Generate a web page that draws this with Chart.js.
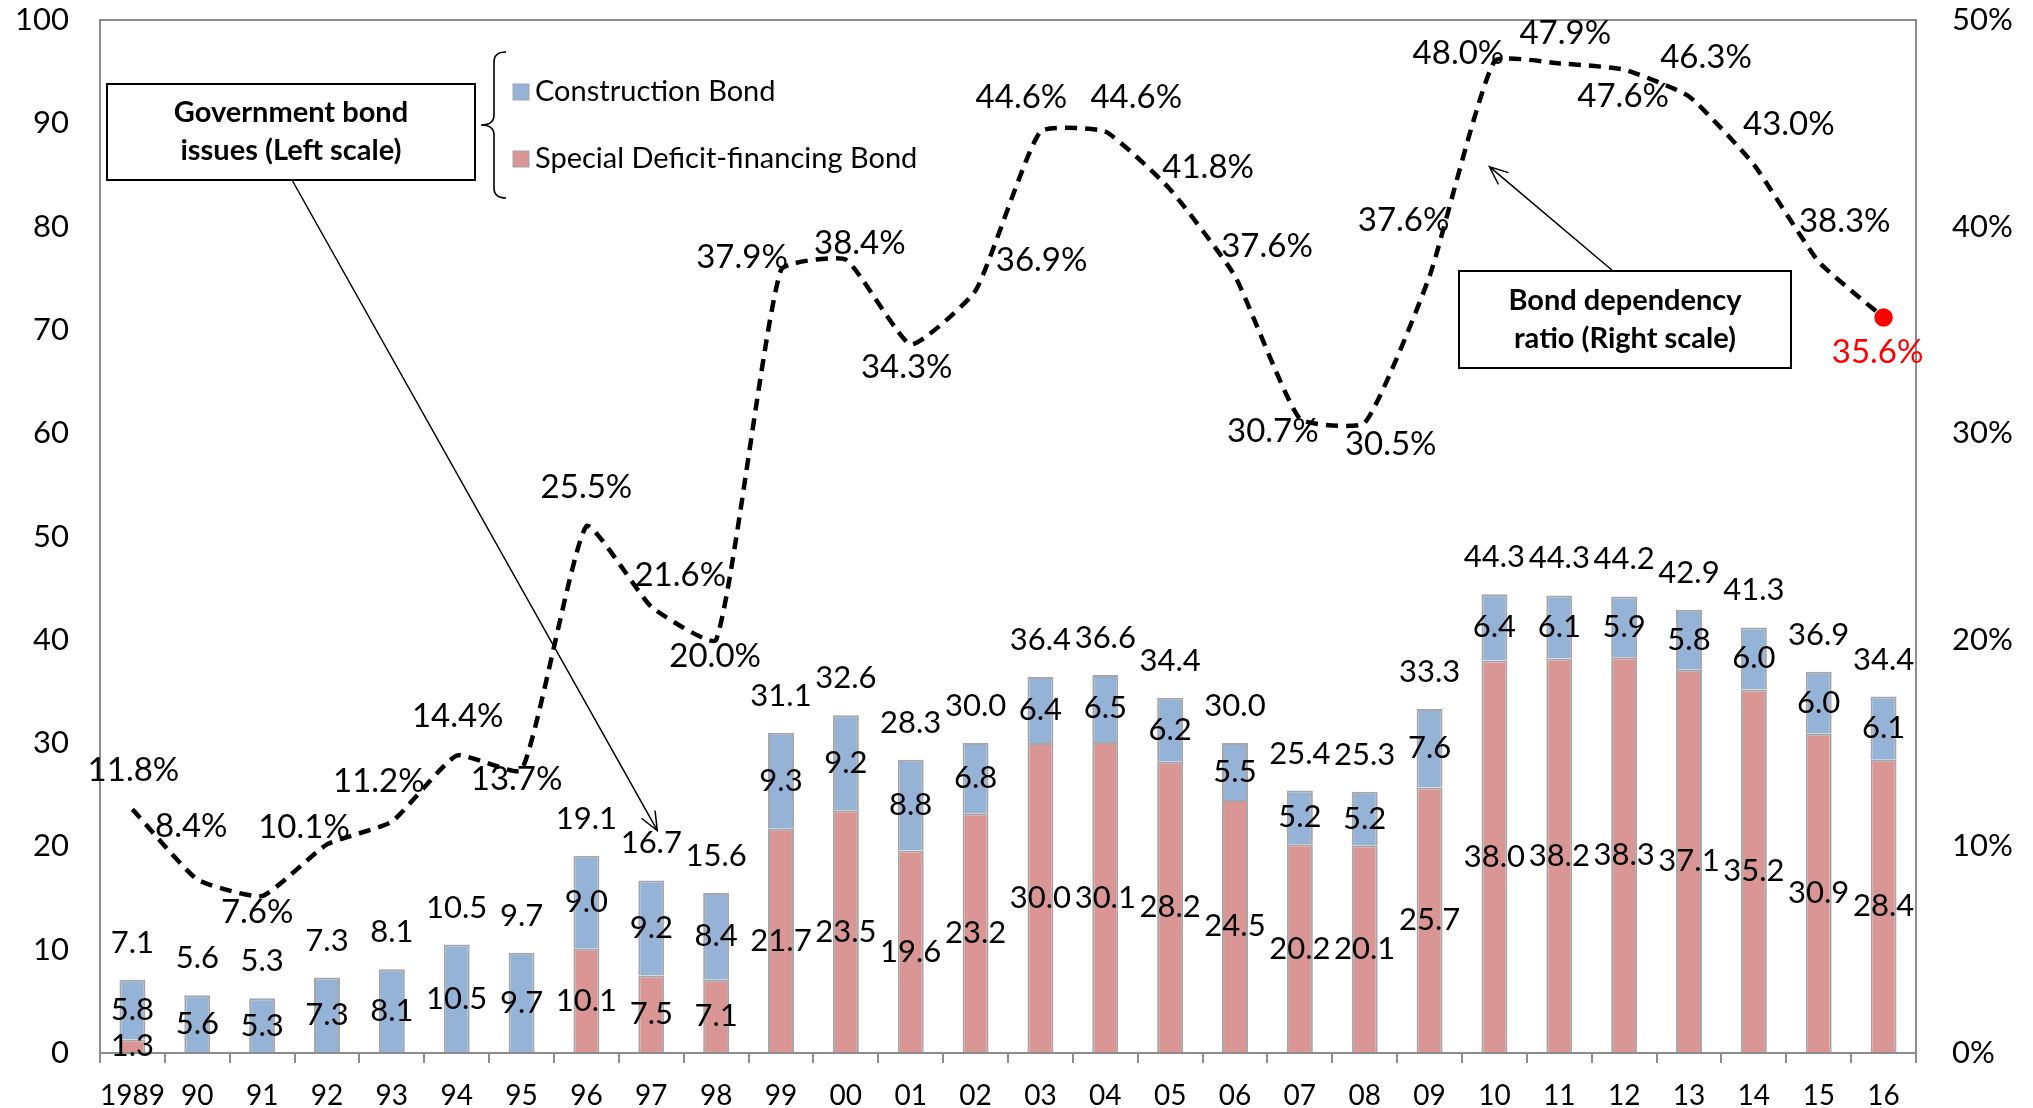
<!DOCTYPE html>
<html>
<head>
<title>Government bond issues and bond dependency ratio</title>
<script src="https://cdn.jsdelivr.net/npm/chart.js"></script>
<style>
  html, body { margin: 0; padding: 0; background: #fff; }
</style>
</head>
<body>
<canvas id="bondChart" width="2033" height="1108"></canvas>
<script>
// fiscal years
const years = ['1989', '90', '91', '92', '93', '94', '95', '96', '97', '98', '99', '00', '01', '02',
               '03', '04', '05', '06', '07', '08', '09', '10', '11', '12', '13', '14', '15', '16'];

// bond issues (left scale)
const constructionBond = [5.8, 5.6, 5.3, 7.3, 8.1, 10.5, 9.7, 9.0, 9.2, 8.4, 9.3, 9.2, 8.8, 6.8,
                          6.4, 6.5, 6.2, 5.5, 5.2, 5.2, 7.6, 6.4, 6.1, 5.9, 5.8, 6.0, 6.0, 6.1];
const deficitBond = [1.3, 0, 0, 0, 0, 0, 0, 10.1, 7.5, 7.1, 21.7, 23.5, 19.6, 23.2,
                     30.0, 30.1, 28.2, 24.5, 20.2, 20.1, 25.7, 38.0, 38.2, 38.3, 37.1, 35.2, 30.9, 28.4];
const totalIssues = [7.1, 5.6, 5.3, 7.3, 8.1, 10.5, 9.7, 19.1, 16.7, 15.6, 31.1, 32.6, 28.3, 30.0,
                     36.4, 36.6, 34.4, 30.0, 25.4, 25.3, 33.3, 44.3, 44.3, 44.2, 42.9, 41.3, 36.9, 34.4];

// bond dependency ratio, % (right scale)
const dependencyRatio = [11.8, 8.4, 7.6, 10.1, 11.2, 14.4, 13.7, 25.5, 21.6, 20.0, 37.9, 38.4, 34.3, 36.9,
                         44.6, 44.6, 41.8, 37.6, 30.7, 30.5, 37.6, 48.0, 47.9, 47.6, 46.3, 43.0, 38.3, 35.6];

// where each ratio label sits relative to its point (px)
const ratioLabelShift = [[1,-39], [-6,-53], [-5,16], [-23,-17], [-13,-40], [1,-39], [-5,9], [0,-39],
                         [29,-31], [-1,17], [-39,-13], [14,-16], [-4,23], [66,-30], [-19,-34], [31,-34],
                         [38,-22], [32,-30], [-27,13], [26,21], [-26,-56], [-36,-8], [6,-30], [-1,27],
                         [17,-39], [35,-40], [26,-40], [-6,35]];

const FONT = 'Lato, "Noto Sans", sans-serif';
const AXIS_GREY = '#8c8c8c';
Chart.defaults.font.family = FONT;
Chart.defaults.color = '#000';

function drawArrow(ctx, x1, y1, x2, y2) {
  const a = Math.atan2(y2 - y1, x2 - x1);
  const len = 20, spread = 0.4;
  ctx.beginPath();
  ctx.moveTo(x1, y1);
  ctx.lineTo(x2, y2);
  ctx.moveTo(x2 - len * Math.cos(a - spread), y2 - len * Math.sin(a - spread));
  ctx.lineTo(x2, y2);
  ctx.lineTo(x2 - len * Math.cos(a + spread), y2 - len * Math.sin(a + spread));
  ctx.stroke();
}

function textBox(ctx, x, y, w, h, lines) {
  ctx.fillStyle = '#fff';
  ctx.fillRect(x, y, w, h);
  ctx.strokeStyle = '#000';
  ctx.lineWidth = 2;
  ctx.strokeRect(x, y, w, h);
  ctx.fillStyle = '#000';
  ctx.font = 'bold 29px ' + FONT;
  ctx.textAlign = 'center';
  ctx.textBaseline = 'middle';
  const gap = 38;
  const cy = y + h / 2 - gap * (lines.length - 1) / 2;
  lines.forEach((t, i) => ctx.fillText(t, x + w / 2, cy + i * gap));
}

const decorations = {
  id: 'decorations',
  afterDraw(chart) {
    const { ctx, chartArea: area } = chart;
    const xs = chart.scales.x, ys = chart.scales.y, yr = chart.scales.y1;
    ctx.save();

    // plot frame
    ctx.strokeStyle = AXIS_GREY;
    ctx.lineWidth = 2;
    ctx.strokeRect(area.left, area.top, area.right - area.left, area.bottom - area.top);

    // bar labels
    ctx.font = '31px ' + FONT;
    ctx.fillStyle = '#000';
    ctx.textAlign = 'center';
    ctx.textBaseline = 'middle';
    years.forEach((_, i) => {
      const cx = xs.getPixelForValue(i);
      const d = deficitBond[i], c = constructionBond[i];
      if (d > 0) ctx.fillText(d.toFixed(1), cx, ys.getPixelForValue(d / 2));
      if (c > 0) ctx.fillText(c.toFixed(1), cx, ys.getPixelForValue(d + c / 2));
      ctx.fillText(totalIssues[i].toFixed(1), cx, ys.getPixelForValue(d + c) - 37);
    });

    // ratio labels
    ctx.font = '33px ' + FONT;
    const last = dependencyRatio.length - 1;
    dependencyRatio.forEach((v, i) => {
      const [dx, dy] = ratioLabelShift[i];
      ctx.fillStyle = i === last ? '#ff0000' : '#000';
      ctx.fillText(v.toFixed(1) + '%', xs.getPixelForValue(i) + dx, yr.getPixelForValue(v) + dy);
    });

    // callout for bars
    ctx.strokeStyle = '#000';
    ctx.lineWidth = 1.5;
    drawArrow(ctx, 292, 180, xs.getPixelForValue(8) + 6, ys.getPixelForValue(totalIssues[8]) - 50);
    textBox(ctx, 107, 84, 368, 96, ['Government bond', 'issues (Left scale)']);

    // brace + legend
    ctx.strokeStyle = '#000';
    ctx.lineWidth = 1.6;
    const xr = 506, xm = 494, xl = 481, top = 52, bot = 198, mid = 125, r = 10;
    ctx.beginPath();
    ctx.moveTo(xr, top);
    ctx.quadraticCurveTo(xm, top, xm, top + r);
    ctx.lineTo(xm, mid - r);
    ctx.quadraticCurveTo(xm, mid, xl, mid);
    ctx.quadraticCurveTo(xm, mid, xm, mid + r);
    ctx.lineTo(xm, bot - r);
    ctx.quadraticCurveTo(xm, bot, xr, bot);
    ctx.stroke();

    const legendItems = [['Construction Bond', '#95B3D7', 92], ['Special Deficit-financing Bond', '#D99694', 159]];
    ctx.font = '29px ' + FONT;
    ctx.textAlign = 'left';
    legendItems.forEach(([txt, col, yy]) => {
      ctx.fillStyle = col;
      ctx.fillRect(513, yy - 8, 16, 16);
      ctx.strokeStyle = '#a6a6a6';
      ctx.lineWidth = 1;
      ctx.strokeRect(513, yy - 8, 16, 16);
      ctx.fillStyle = '#000';
      ctx.fillText(txt, 535, yy);
    });

    // callout for ratio line
    ctx.strokeStyle = '#000';
    ctx.lineWidth = 1.5;
    drawArrow(ctx, 1613, 271, xs.getPixelForValue(21) - 5, yr.getPixelForValue(42.9));
    textBox(ctx, 1459, 271, 332, 97, ['Bond dependency', 'ratio (Right scale)']);

    ctx.restore();
  }
};

const barStyle = { borderColor: '#a6a6a6', borderWidth: 2, barPercentage: 0.4, categoryPercentage: 1, stack: 'issues', order: 1 };

// drop the automatic label overhang so the plot spans the set box
function noOverhang(s) {
  s.paddingTop = 0;
  s.paddingBottom = 0;
  s.paddingLeft = 0;
  s.paddingRight = 0;
}

new Chart(document.getElementById('bondChart'), {
  type: 'bar',
  data: {
    labels: years,
    datasets: [
      {
        type: 'line',
        label: 'Bond dependency ratio',
        data: dependencyRatio,
        yAxisID: 'y1',
        borderColor: '#000',
        borderWidth: 4.5,
        borderDash: [12, 8],
        tension: 0.15,
        fill: false,
        pointRadius: c => (c.dataIndex === dependencyRatio.length - 1 ? 7 : 0),
        pointBackgroundColor: '#ff0000',
        pointBorderColor: '#ff0000',
        order: 0
      },
      Object.assign({ label: 'Special Deficit-financing Bond', data: deficitBond, backgroundColor: '#D99694' }, barStyle),
      Object.assign({ label: 'Construction Bond', data: constructionBond, backgroundColor: '#95B3D7' }, barStyle)
    ]
  },
  options: {
    responsive: false,
    animation: false,
    layout: { padding: { top: 20, bottom: 0, left: 0, right: 0 } },
    plugins: { legend: { display: false }, tooltip: { enabled: false } },
    scales: {
      x: {
        stacked: true,
        offset: true,
        grid: { offset: true, drawOnChartArea: false, drawTicks: true, tickLength: 10, color: AXIS_GREY, lineWidth: 2 },
        border: { color: AXIS_GREY, width: 2 },
        ticks: { font: { size: 28 }, color: '#000', padding: 16, maxRotation: 0, autoSkip: false },
        afterFit: s => { noOverhang(s); s.height = 55; }
      },
      y: {
        stacked: true,
        position: 'left',
        min: 0, max: 100,
        grid: { display: false, drawTicks: false },
        border: { color: AXIS_GREY, width: 2 },
        ticks: { stepSize: 10, font: { size: 31 }, color: '#000', padding: 31 },
        afterFit: s => { noOverhang(s); s.width = 100; }
      },
      y1: {
        position: 'right',
        min: 0, max: 50,
        grid: { display: false, drawTicks: false },
        border: { color: AXIS_GREY, width: 2 },
        ticks: { stepSize: 10, font: { size: 31 }, color: '#000', padding: 36, callback: v => v + '%' },
        afterFit: s => { noOverhang(s); s.width = 117; }
      }
    }
  },
  plugins: [decorations]
});
</script>
</body>
</html>
